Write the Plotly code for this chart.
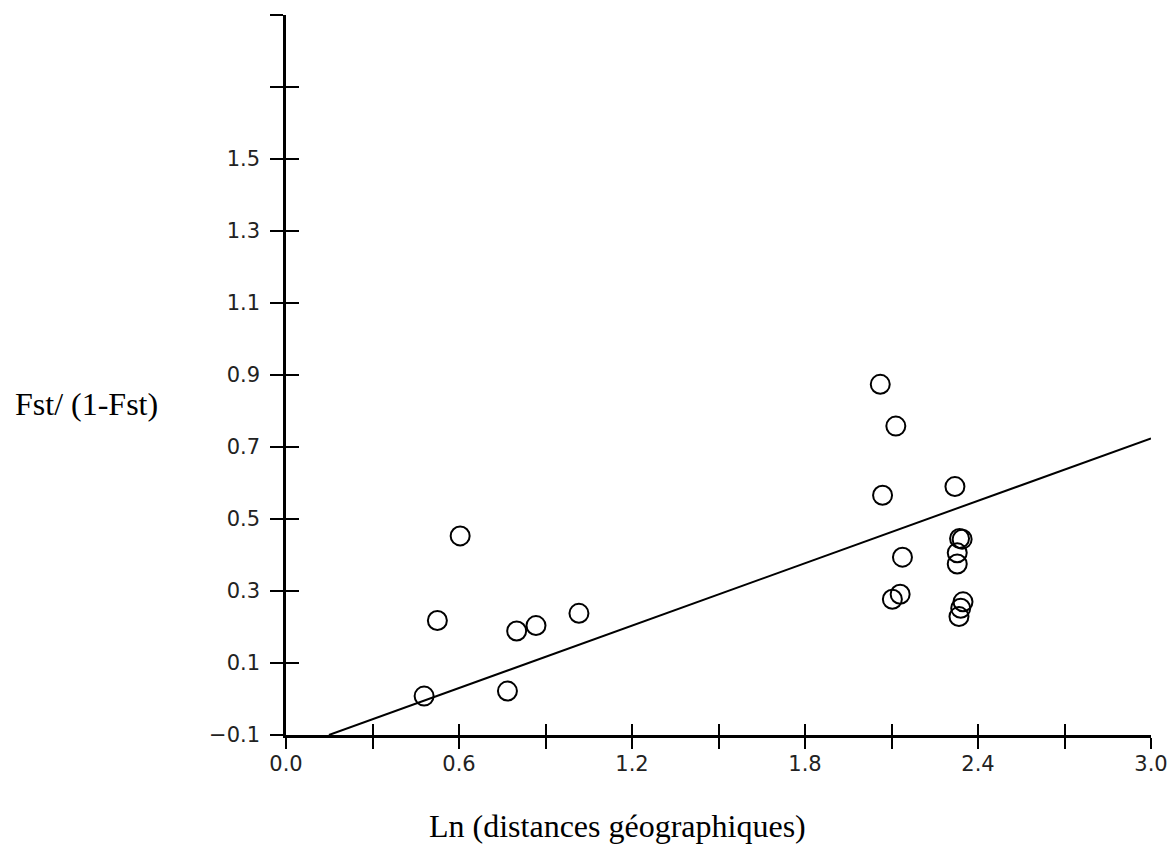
import plotly.graph_objects as go

# Data
ln_dist = [0.479, 0.525, 0.604, 0.768, 0.800, 0.867, 1.016,
           2.061, 2.115, 2.069, 2.138, 2.130, 2.103,
           2.320, 2.336, 2.345, 2.328, 2.328, 2.348, 2.340, 2.334]
fst_ratio = [0.008, 0.218, 0.453, 0.022, 0.189, 0.204, 0.238,
             0.874, 0.758, 0.566, 0.394, 0.291, 0.277,
             0.590, 0.446, 0.444, 0.406, 0.375, 0.270, 0.252, 0.229]

# Regression line
fit_x = [0.149, 3.0]
fit_intercept = -0.143
fit_slope = 0.289
fit_y = [fit_intercept + fit_slope * v for v in fit_x]

x_tickvals = [0.0, 0.3, 0.6, 0.9, 1.2, 1.5, 1.8, 2.1, 2.4, 2.7, 3.0]
x_ticktext = ["0.0", "", "0.6", "", "1.2", "", "1.8", "", "2.4", "", "3.0"]
y_tickvals = [-0.1, 0.1, 0.3, 0.5, 0.7, 0.9, 1.1, 1.3, 1.5, 1.7, 1.9]
y_ticktext = ["\u22120.1", "0.1", "0.3", "0.5", "0.7", "0.9", "1.1", "1.3", "1.5", "", ""]

x_range = [0, 3.0]
y_range = [-0.1, 1.9]

fig = go.Figure()

fig.add_trace(go.Scatter(
    x=ln_dist, y=fst_ratio, mode="markers",
    marker=dict(symbol="circle-open", size=19, color="black", line=dict(width=2)),
    xaxis="x", yaxis="y", showlegend=False, hoverinfo="x+y",
))

fig.add_trace(go.Scatter(
    x=fit_x, y=fit_y, mode="lines",
    line=dict(color="black", width=2),
    xaxis="x2", yaxis="y2", showlegend=False, hoverinfo="skip",
))

tick_font = dict(family="DejaVu Sans", size=21, color="#222222")

common_x = dict(range=x_range, tickmode="array", tickvals=x_tickvals,
                showgrid=False, zeroline=False, tickwidth=2, tickcolor="black", ticklen=11)
common_y = dict(range=y_range, tickmode="array", tickvals=y_tickvals,
                showgrid=False, zeroline=False, tickwidth=2, tickcolor="black", ticklen=13)

# Figure placed inside the page's default 8px body margin
W, H = 1167, 838
L, T, PW, PH = 278, 7, 867, 720

fig.update_layout(
    width=W, height=H,
    margin=dict(l=L, r=W - L - PW, t=T, b=H - T - PH),
    paper_bgcolor="white", plot_bgcolor="white",
    xaxis=dict(**common_x, ticktext=x_ticktext, ticks="outside",
               showline=True, linecolor="black", linewidth=2.5,
               tickfont=tick_font, anchor="y", ticklabelstandoff=-3),
    yaxis=dict(**common_y, ticktext=y_ticktext, ticks="outside",
               showline=True, linecolor="black", linewidth=2.5,
               tickfont=tick_font, anchor="x", ticklabelstandoff=6),
    xaxis2=dict(**common_x, ticks="inside", overlaying="x", anchor="y2",
                side="bottom", showline=False, showticklabels=False),
    yaxis2=dict(**common_y, ticks="inside", overlaying="y", anchor="x2",
                side="left", showline=False, showticklabels=False),
    annotations=[
        dict(text="Fst/ (1-Fst)", xref="paper", yref="paper",
             x=(4 - L) / PW, y=331 / PH,
             xanchor="left", yanchor="middle", showarrow=False,
             font=dict(family="Liberation Serif", size=32, color="black")),
        dict(text="Ln (distances géographiques)", xref="paper", yref="paper",
             x=141 / PW, y=-91 / PH,
             xanchor="left", yanchor="middle", showarrow=False,
             font=dict(family="Liberation Serif", size=32, color="black")),
    ],
)

fig.write_html("out.html")
